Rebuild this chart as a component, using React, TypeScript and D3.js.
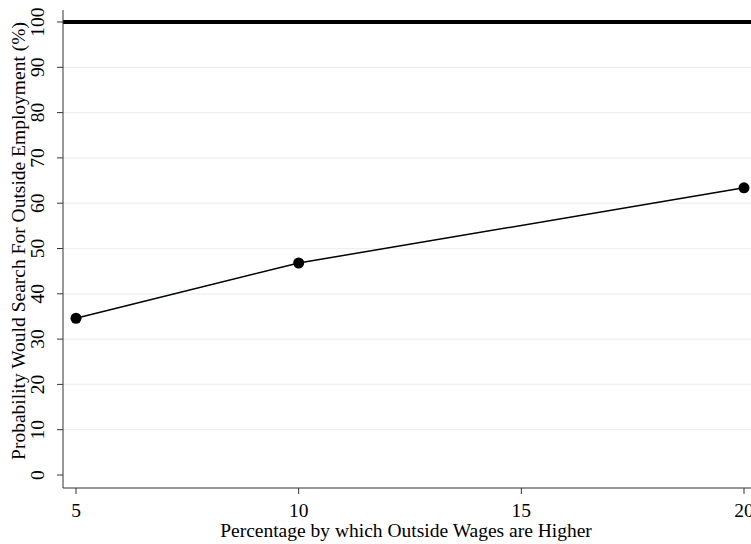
import React from "react";
import * as d3 from "d3";

const wageGaps = [5, 10, 20];
const searchProb = [34.6, 46.8, 63.4];
const xTicks = [5, 10, 15, 20];
const yTicks = [0, 10, 20, 30, 40, 50, 60, 70, 80, 90, 100];
const gridValues = [10, 20, 30, 40, 50, 60, 70, 80, 90];
const referenceLevel = 100;

const W = 751;
const H = 544;
const FONT = "'Liberation Serif', 'Times New Roman', serif";
const FS = 19.5;

export default function App() {
  const x = d3.scaleLinear().domain([5, 20]).range([76, 744]);
  const y = d3.scaleLinear().domain([0, 100]).range([475, 22]);
  const axisX = 63;
  const axisY = 488;

  const pts = wageGaps.map((g, i) => [x(g), y(searchProb[i])] as [number, number]);
  const line = d3.line()(pts) ?? "";

  return (
    <svg
      width={W}
      height={H}
      style={{ position: "absolute", left: 0, top: 0, background: "#fff" }}
      fontFamily={FONT}
    >
      {/* gridlines */}
      {gridValues.map((v) => (
        <line key={v} x1={axisX} x2={W} y1={y(v)} y2={y(v)} stroke="#eaf1f3" strokeWidth={1.2} />
      ))}
      {/* reference line */}
      <line x1={axisX} x2={W} y1={y(referenceLevel)} y2={y(referenceLevel)} stroke="#000" strokeWidth={4} />
      {/* axes */}
      <line x1={axisX} x2={axisX} y1={10} y2={axisY} stroke="#333" strokeWidth={1} />
      <line x1={axisX} x2={W} y1={axisY} y2={axisY} stroke="#333" strokeWidth={1} />
      {yTicks.map((v) => (
        <g key={v}>
          <line x1={axisX - 6} x2={axisX} y1={y(v)} y2={y(v)} stroke="#333" />
          <text
            transform={`translate(44,${y(v)}) rotate(-90)`}
            textAnchor="middle"
            fontSize={FS}
            fill="#000"
          >
            {v}
          </text>
        </g>
      ))}
      {xTicks.map((v) => (
        <g key={v}>
          <line x1={x(v)} x2={x(v)} y1={axisY} y2={axisY + 6} stroke="#333" />
          <text x={x(v)} y={517} textAnchor="middle" fontSize={FS} fill="#000">
            {v}
          </text>
        </g>
      ))}
      <text x={406} y={537} textAnchor="middle" fontSize={FS} fill="#000">
        Percentage by which Outside Wages are Higher
      </text>
      <text
        transform={`translate(25,${241}) rotate(-90)`}
        textAnchor="middle"
        fontSize={FS}
        fill="#000"
      >
        Probability Would Search For Outside Employment (%)
      </text>
      {/* series */}
      <path d={line} fill="none" stroke="#000" strokeWidth={1.5} />
      {pts.map((p, i) => (
        <circle key={i} cx={p[0]} cy={p[1]} r={5.5} fill="#000" />
      ))}
    </svg>
  );
}
